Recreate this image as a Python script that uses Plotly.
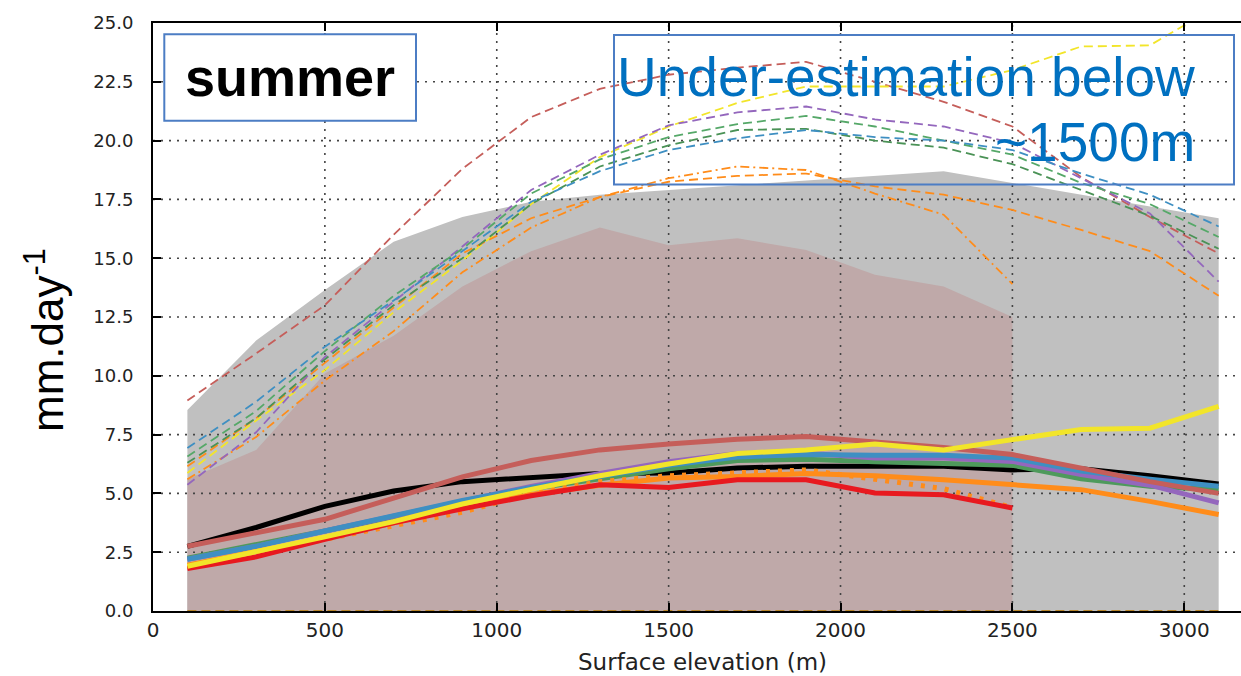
import plotly.graph_objects as go

# Surface elevation bins (m)
elevation = [100, 300, 500, 700, 900, 1100, 1300, 1500, 1700, 1900, 2100, 2300, 2500, 2700, 2900, 3100]
elevation_obs = elevation[:13]  # observation products stop at 2500 m

# Envelopes (mm/day)
envelope_grey = [8.55, 11.5, 13.65, 15.7, 16.75, 17.4, 17.7, 17.9, 18.1, 18.3, 18.5, 18.7, 18.2, 17.7, 17.2, 16.7]
envelope_pink = [5.6, 6.85, 10.1, 11.7, 13.8, 15.3, 16.3, 15.55, 15.85, 15.35, 14.3, 13.8, 12.5]

# Upper (dashed) model curves
dash_indianred = [8.95, 10.95, 13.0, 16.0, 18.8, 21.0, 22.2, 22.8, 23.1, 23.35, 22.5, 21.65, 20.6, 18.45, 16.75, 15.2]
dash_yellow = [5.87, 8.1, 10.25, 12.7, 14.9, 17.3, 19.3, 20.6, 21.6, 22.3, 22.3, 22.3, 23.0, 24.0, 24.05, 25.75]
dash_orange = [6.15, 8.2, 10.55, 12.9, 15.2, 16.7, 17.6, 18.25, 18.5, 18.6, 18.05, 17.7, 17.05, 16.2, 15.3, 13.4]
dashdot_orange = [5.6, 7.4, 9.8, 11.9, 14.4, 16.3, 17.6, 18.4, 18.9, 18.75, 17.75, 16.85, 13.9]
dash_purple = [5.37, 7.6, 10.8, 13.15, 15.5, 17.9, 19.4, 20.65, 21.2, 21.45, 20.9, 20.6, 19.9, 18.4, 16.9, 14.0]
dash_green = [6.57, 8.5, 11.05, 13.4, 15.4, 17.75, 19.2, 20.15, 20.7, 21.05, 20.6, 20.0, 19.4, 18.2, 17.3, 15.9]
dash_green2 = [6.3, 8.2, 10.7, 13.0, 15.0, 17.3, 18.9, 19.8, 20.45, 20.5, 20.0, 19.7, 19.0, 17.9, 16.8, 15.4]
dash_blue = [6.93, 8.9, 11.24, 13.2, 15.3, 17.4, 18.7, 19.6, 20.1, 20.45, 20.15, 20.0, 19.6, 18.6, 17.7, 16.35]

# Lower (solid) curves
solid_black = [2.75, 3.55, 4.45, 5.1, 5.5, 5.7, 5.85, 5.87, 6.08, 6.15, 6.15, 6.15, 6.0, 6.05, 5.75, 5.4]
solid_green = [2.25, 2.8, 3.4, 4.0, 4.65, 5.2, 5.65, 6.05, 6.4, 6.45, 6.35, 6.25, 6.2, 5.62, 5.3, 5.15]
solid_purple = [2.2, 2.75, 3.4, 4.05, 4.7, 5.3, 5.85, 6.35, 6.7, 6.72, 6.5, 6.5, 6.36, 5.8, 5.35, 4.6]
solid_blue = [2.2, 2.75, 3.4, 4.05, 4.7, 5.25, 5.75, 6.2, 6.55, 6.65, 6.62, 6.62, 6.5, 5.95, 5.6, 5.3]
solid_indianred = [2.75, 3.3, 3.9, 4.8, 5.7, 6.4, 6.85, 7.1, 7.3, 7.42, 7.2, 6.95, 6.65, 6.05, 5.5, 5.0]
solid_orange = [1.95, 2.5, 3.1, 3.75, 4.4, 4.95, 5.35, 5.65, 5.72, 5.85, 5.75, 5.58, 5.37, 5.16, 4.66, 4.1]
dotted_orange = [1.85, 2.4, 3.05, 3.6, 4.2, 5.0, 5.5, 5.75, 5.9, 6.0, 5.6, 5.2, 4.4]
solid_red = [1.8, 2.3, 3.05, 3.75, 4.35, 4.9, 5.37, 5.25, 5.58, 5.58, 5.02, 4.94, 4.38]
solid_yellow = [1.9, 2.5, 3.15, 3.8, 4.55, 5.17, 5.75, 6.25, 6.7, 6.85, 7.1, 6.85, 7.28, 7.72, 7.77, 8.7]

x_ticks = [0, 500, 1000, 1500, 2000, 2500, 3000]
y_ticks = [0.0, 2.5, 5.0, 7.5, 10.0, 12.5, 15.0, 17.5, 20.0, 22.5, 25.0]
X_MAX = 3165

C_INDIANRED = "#C55E5A"
C_YELLOW = "#F2E52A"
C_ORANGE = "#FF8C1A"
C_PURPLE = "#9467BD"
C_GREEN = "#55A868"
C_GREEN2 = "#4A9256"
C_BLUE = "#3E8FC2"
C_RED = "#E8191F"

fig = go.Figure()

# shaded envelopes
fig.add_trace(go.Scatter(x=elevation, y=envelope_grey, mode="lines", line=dict(width=0),
                         fill="tozeroy", fillcolor="#C0C0C0", hoverinfo="skip"))
fig.add_trace(go.Scatter(x=elevation_obs, y=envelope_pink, mode="lines", line=dict(width=0),
                         fill="tozeroy", fillcolor="#BFA9A9", hoverinfo="skip"))

# dotted grid drawn over the envelopes
gx, gy = [], []
for t in x_ticks[1:]:
    gx += [t, t, None]
    gy += [y_ticks[0], y_ticks[-1], None]
for t in y_ticks[1:-1]:
    gx += [0, X_MAX, None]
    gy += [t, t, None]
fig.add_trace(go.Scatter(x=gx, y=gy, mode="lines", hoverinfo="skip",
                         line=dict(color="#444444", width=1.6, dash="2px,6px")))

# zero line of the dashed family
fig.add_trace(go.Scatter(x=[elevation[0], elevation[-1]], y=[0, 0], mode="lines",
                         line=dict(color="#B8862B", width=2, dash="9px,5px")))

dashed = [
    (dash_indianred, C_INDIANRED, "9px,5px", elevation),
    (dash_yellow, C_YELLOW, "9px,5px", elevation),
    (dash_orange, C_ORANGE, "9px,5px", elevation),
    (dashdot_orange, C_ORANGE, "9px,4px,2px,4px", elevation_obs),
    (dash_purple, C_PURPLE, "9px,5px", elevation),
    (dash_green2, C_GREEN2, "9px,5px", elevation),
    (dash_green, C_GREEN, "9px,5px", elevation),
    (dash_blue, C_BLUE, "9px,5px", elevation),
]
for ys, col, dsh, xs in dashed:
    fig.add_trace(go.Scatter(x=xs, y=ys, mode="lines", line=dict(color=col, width=1.8, dash=dsh)))

solid = [
    (solid_black, "#000000", "solid", elevation),
    (solid_green, "#4E9A5C", "solid", elevation),
    (solid_purple, C_PURPLE, "solid", elevation),
    (solid_blue, C_BLUE, "solid", elevation),
    (solid_indianred, C_INDIANRED, "solid", elevation),
    (solid_orange, C_ORANGE, "solid", elevation),
    (dotted_orange, C_ORANGE, "4px,8px", elevation_obs),
    (solid_red, C_RED, "solid", elevation_obs),
    (solid_yellow, C_YELLOW, "solid", elevation),
]
for ys, col, dsh, xs in solid:
    fig.add_trace(go.Scatter(x=xs, y=ys, mode="lines", line=dict(color=col, width=5, dash=dsh)))

# plot-area geometry in pixels
L, T, W, H = 153, 23, 1088, 588


def px(p):
    return (p - L) / W


def py(p):
    return (T + H - p) / H


# text boxes
fig.add_shape(type="rect", xref="paper", yref="paper", x0=px(164.3), x1=px(416), y0=py(120.7), y1=py(34.3),
              line=dict(color="#4C7DC4", width=2), fillcolor="white", layer="above")
fig.add_shape(type="rect", xref="paper", yref="paper", x0=px(614), x1=px(1234), y0=py(184.5), y1=py(35),
              line=dict(color="#4C7DC4", width=2), fillcolor="rgba(0,0,0,0)", layer="above")

fig.add_annotation(xref="paper", yref="paper", x=px(290), y=py(77), text="<b>summer</b>", showarrow=False,
                   xanchor="center", yanchor="middle",
                   font=dict(family="Liberation Sans, Arial", size=54, color="black"))
fig.add_annotation(xref="paper", yref="paper", x=px(1197), y=py(77), text="Under-estimation below",
                   showarrow=False, xanchor="right", yanchor="middle",
                   font=dict(family="Liberation Sans, Arial", size=55, color="#0070C0"))
fig.add_annotation(xref="paper", yref="paper", x=px(1197), y=py(142), text="~1500m",
                   showarrow=False, xanchor="right", yanchor="middle",
                   font=dict(family="Liberation Sans, Arial", size=55, color="#0070C0"))

# axis titles
fig.add_annotation(xref="paper", yref="paper", x=px(44), y=py(340), text="mm.day<sup>-1</sup>",
                   showarrow=False, textangle=-90, xanchor="center", yanchor="middle",
                   font=dict(family="Liberation Sans, Arial", size=44, color="black"))
fig.add_annotation(xref="paper", yref="paper", x=px(702), y=py(662), text="Surface elevation (m)",
                   showarrow=False, xanchor="center", yanchor="middle",
                   font=dict(family="DejaVu Sans", size=23, color="#222222"))

fig.update_layout(
    width=1241, height=676,
    margin=dict(l=L, r=1241 - L - W, t=T, b=676 - T - H),
    paper_bgcolor="white", plot_bgcolor="white",
    showlegend=False,
    xaxis=dict(range=[0, X_MAX], tickvals=x_ticks, ticks="inside", ticklen=8, tickwidth=1.5,
               tickcolor="black", showline=True, linecolor="black", linewidth=2, mirror="ticks",
               showgrid=False, zeroline=False, layer="above traces",
               tickfont=dict(family="DejaVu Sans", size=20, color="#222222")),
    yaxis=dict(range=[0, 25], tickvals=y_ticks, tickformat=".1f", ticks="inside", ticklen=8, tickwidth=1.5,
               tickcolor="black", showline=True, linecolor="black", linewidth=2,
               showgrid=False, zeroline=False, layer="above traces", ticklabelstandoff=14,
               tickfont=dict(family="DejaVu Sans", size=18, color="#222222")),
)

fig.write_html("out.html")
